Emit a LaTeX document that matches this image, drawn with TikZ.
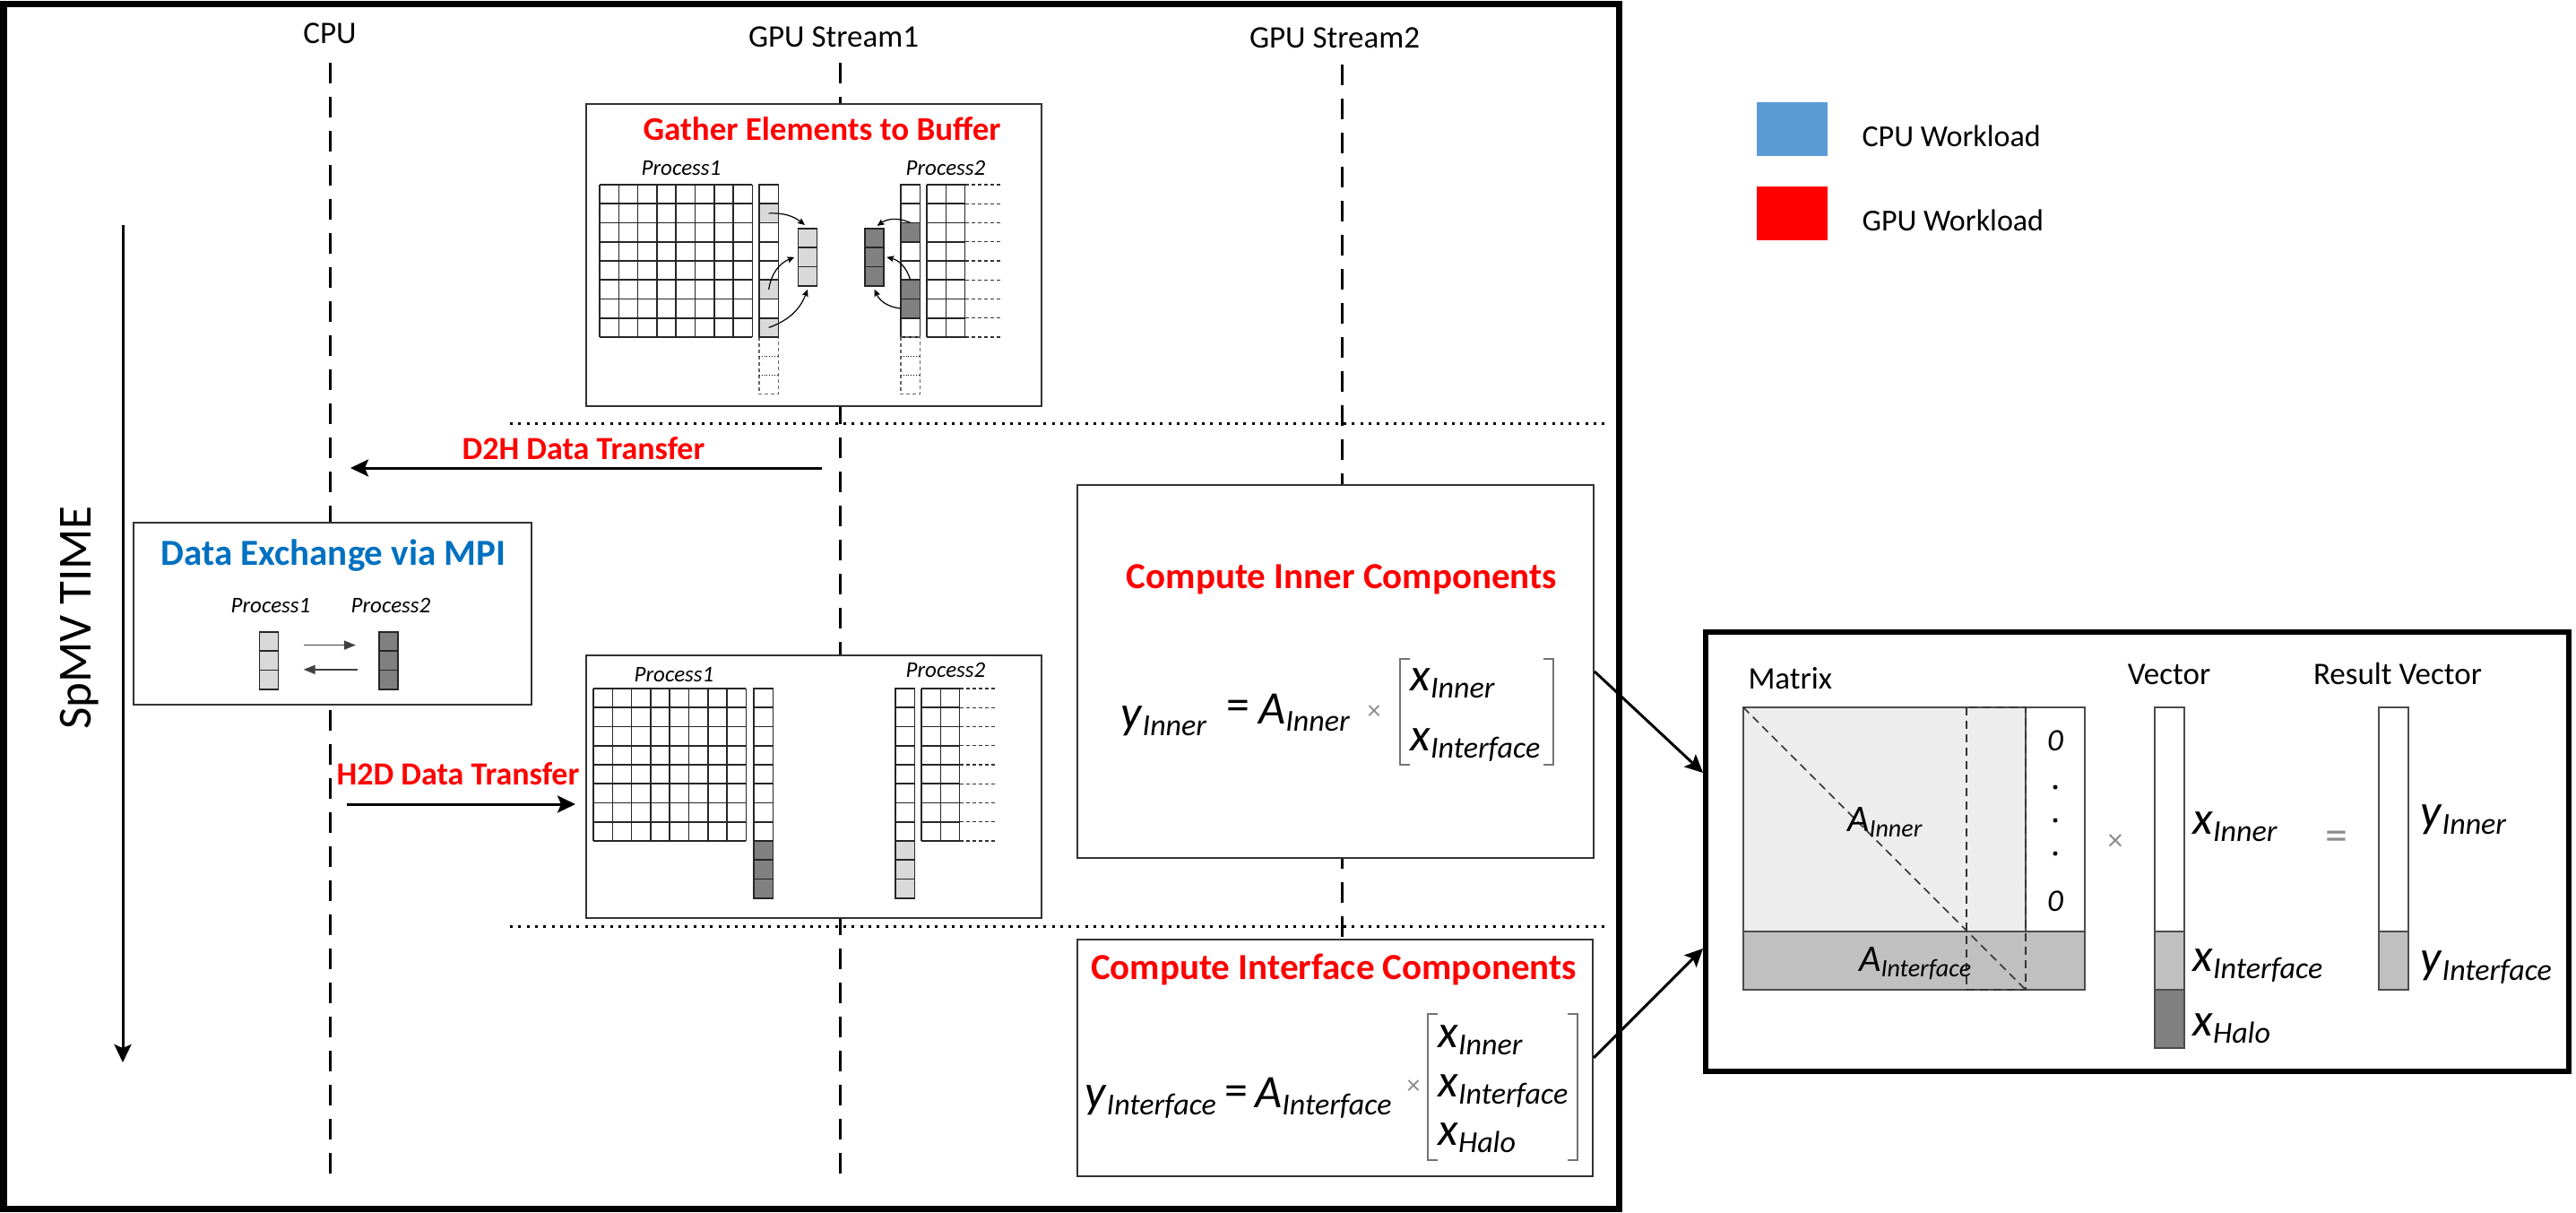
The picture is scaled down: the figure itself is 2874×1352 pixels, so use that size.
\documentclass[tikz,border=0pt]{standalone}
\usepackage{fontspec}
\setmainfont{Carlito}
\usetikzlibrary{arrows.meta, positioning}

\definecolor{lightcell}{HTML}{D9D9D9}
\definecolor{darkcell}{HTML}{808080}
\definecolor{innerfill}{HTML}{EDEDED}
\definecolor{ifacefill}{HTML}{C0C0C0}
\definecolor{cpublue}{HTML}{5B9BD5}
\definecolor{mpiblue}{HTML}{0070C0}
\definecolor{gpured}{HTML}{FF0000}

\newcommand{\fsz}[1]{\fontsize{#1}{#1}\selectfont}
\newcommand{\msym}[3][34]{\textit{#2}\raisebox{-0.16em}{\fsz{#1}\itshape #3}}

\tikzset{
  lane/.style={line width=3pt, dash pattern=on 23pt off 15pt},
  phase/.style={line width=3pt, dash pattern=on 3pt off 6.3pt},
  panel/.style={draw=black!80, line width=2pt, fill=white, inner sep=0pt},
  cellgrid/.style={draw=black!85, line width=1.6pt},
  tailcell/.style={draw=black!60, line width=1.4pt, dash pattern=on 4pt off 3pt},
  extline/.style={draw=black!80, line width=1.3pt, dash pattern=on 4pt off 3pt},
  cellbox/.style={draw=black!85, line width=1.6pt, minimum width=21.3pt, minimum height=21.25pt, inner sep=0pt, outer sep=0pt},
  redtitle/.style={font=\fsz{36}\bfseries, text=gpured},
  plabel/.style={font=\fsz{25}\itshape},
  eqtext/.style={font=\fsz{52}, inner sep=0pt},
  bracket/.style={draw=black!55, line width=2pt},
  opmark/.style={font=\fsz{30}, text=black!45, inner sep=0pt},
  bigarrow/.style={line width=3pt, -{Stealth[length=20pt, width=19pt, inset=4pt]}},
  gatharrow/.style={line width=1.2pt, -{Stealth[length=8pt, width=7pt, inset=1.5pt]}},
  mpiarrow/.style={draw=black!75, line width=1.6pt, -{Stealth[length=13pt, width=10pt, inset=0pt]}},
  matline/.style={draw=black!70, line width=2pt},
  matdash/.style={draw=black!80, line width=1.5pt, dash pattern=on 9pt off 6pt},
}

\begin{document}
\begin{tikzpicture}[x=1pt, y=-1pt]
    \useasboundingbox (0,0) rectangle (2874,1352);

    % lanes
    \node[anchor=base, font=\fsz{35}] (cpulbl) at (368,48) {CPU};
    \node[anchor=base, font=\fsz{35}] (gpu1lbl) at (930,52) {GPU Stream1};
    \node[anchor=base, font=\fsz{35}] (gpu2lbl) at (1489,53) {GPU Stream2};
    \draw[lane] (368,70) -- (368,1318);
    \draw[lane] (937,70) -- (937,1318);
    \draw[lane] (1497,72) -- (1497,1318);

    \draw[phase] (569,472) -- (1795,472);
    \draw[phase] (569,1033) -- (1795,1033);

    \draw[line width=7pt] (4,4) rectangle (1806,1348);

    % time axis
    \node[rotate=90, font=\fsz{53}] (timelbl) at (89,689) {SpMV TIME};
    \coordinate (timetop) at (137,251);
    \coordinate (timebottom) at (137,1185);
    \draw[bigarrow] (timetop) -- (timebottom);

    % gather
    \node[panel, minimum width=508pt, minimum height=337pt] (gatherbox) at (908,284.5) {};
    \node[redtitle, font=\fsz{37}\bfseries, anchor=base] (gathertitle) at (917,156) {Gather Elements to Buffer};
    \node[plabel, anchor=base] (gp1lbl) at (760,195) {Process1};
    \node[plabel, anchor=base] (gp2lbl) at (1055,195) {Process2};
    \foreach \k in {0,...,8} {
        \draw[cellgrid] ({669+21.3*\k},206) -- ++(0,170);
        \draw[cellgrid] (669,{206+21.25*\k}) -- ++(170.4,0);
    }
    \foreach \r in {0,...,7} {
        \draw[cellgrid] (847,{206+21.25*\r}) rectangle ++(21.3,21.25);
        \draw[cellgrid] (1005,{206+21.25*\r}) rectangle ++(21.3,21.25);
    }
    \draw[tailcell] (847,376) rectangle ++(21.3,63.75);
    \draw[tailcell] (1005,376) rectangle ++(21.3,63.75);
    \foreach \r in {1,2} {
        \draw[dotted, thick] (847,{376+21.25*\r}) -- ++(21.3,0);
        \draw[dotted, thick] (1005,{376+21.25*\r}) -- ++(21.3,0);
    }
    \foreach \k in {0,...,2} \draw[cellgrid] ({1034+21.3*\k},206) -- ++(0,170);
    \foreach \k in {0,...,8} {
        \draw[cellgrid] (1034,{206+21.25*\k}) -- ++(42.6,0);
        \draw[extline] (1076.6,{206+21.25*\k}) -- (1117,{206+21.25*\k});
    }
    \node[cellbox, fill=lightcell] (g1a) at (857.65,237.9) {};
    \node[cellbox, fill=lightcell] (g1b) at (857.65,322.9) {};
    \node[cellbox, fill=lightcell] (g1c) at (857.65,365.4) {};
    \node[cellbox, fill=darkcell] (g2a) at (1015.65,259.1) {};
    \node[cellbox, fill=darkcell] (g2b) at (1015.65,322.9) {};
    \node[cellbox, fill=darkcell] (g2c) at (1015.65,344.1) {};
    \node[cellbox, fill=lightcell] (gbuf1a) at (901,265.6) {};
    \node[cellbox, fill=lightcell, below=0pt of gbuf1a] (gbuf1b) {};
    \node[cellbox, fill=lightcell, below=0pt of gbuf1b] (gbuf1c) {};
    \node[cellbox, fill=darkcell] (gbuf2a) at (975.6,265.6) {};
    \node[cellbox, fill=darkcell, below=0pt of gbuf2a] (gbuf2b) {};
    \node[cellbox, fill=darkcell, below=0pt of gbuf2b] (gbuf2c) {};
    \draw[gatharrow] (g1a.center) to[bend left=20] ([xshift=-3pt, yshift=4pt]gbuf1a.north);
    \draw[gatharrow] (g1b.center) to[bend left=30] ([xshift=-4pt]gbuf1b.west);
    \draw[gatharrow] (g1c.center) to[bend right=25] ([yshift=-4pt]gbuf1c.south);
    \draw[gatharrow] (g2a.north) to[bend right=30] ([xshift=3pt, yshift=3pt]gbuf2a.north);
    \draw[gatharrow] (g2b.north) to[bend right=30] ([xshift=3pt]gbuf2b.east);
    \draw[gatharrow] (g2c.west) to[bend left=30] ([yshift=-4pt]gbuf2c.south);

    % D2H
    \coordinate (d2hfrom) at (917,522);
    \coordinate (d2hto) at (391,522);
    \draw[bigarrow] (d2hfrom) -- (d2hto);
    \node[redtitle, anchor=base] (d2hlbl) at (651,512) {D2H Data Transfer};

    % MPI
    \node[panel, minimum width=444pt, minimum height=203pt] (mpibox) at (371,684.5) {};
    \node[font=\fsz{41}\bfseries, text=mpiblue, anchor=base] (mpititle) at (372,630) {Data Exchange via MPI};
    \node[plabel, anchor=base] (mp1lbl) at (302,683) {Process1};
    \node[plabel, anchor=base] (mp2lbl) at (436,683) {Process2};
    \node[cellbox, fill=lightcell] (mpi1a) at (300,715.6) {};
    \node[cellbox, fill=lightcell, below=0pt of mpi1a] (mpi1b) {};
    \node[cellbox, fill=lightcell, below=0pt of mpi1b] (mpi1c) {};
    \node[cellbox, fill=darkcell] (mpi2a) at (433.5,715.6) {};
    \node[cellbox, fill=darkcell, below=0pt of mpi2a] (mpi2b) {};
    \node[cellbox, fill=darkcell, below=0pt of mpi2b] (mpi2c) {};
    \draw[mpiarrow] ([xshift=28pt, yshift=-4pt]mpi1a.east) -- ([xshift=-26pt, yshift=-4pt]mpi2a.west);
    \draw[mpiarrow] ([xshift=-24pt, yshift=-10pt]mpi2b.west) -- ([xshift=28pt, yshift=-10pt]mpi1b.east);

    % H2D
    \coordinate (h2dfrom) at (387,897);
    \coordinate (h2dto) at (642,897);
    \draw[bigarrow] (h2dfrom) -- (h2dto);
    \node[redtitle, anchor=base] (h2dlbl) at (511,875) {H2D Data Transfer};

    \node[panel, minimum width=508pt, minimum height=293pt] (h2dbox) at (908,877.5) {};
    \node[plabel, anchor=base] (hp1lbl) at (752,760) {Process1};
    \node[plabel, anchor=base] (hp2lbl) at (1055,755) {Process2};
    \foreach \k in {0,...,8} {
        \draw[cellgrid] ({662+21.3*\k},768) -- ++(0,170);
        \draw[cellgrid] (662,{768+21.25*\k}) -- ++(170.4,0);
    }
    \foreach \r in {0,...,7} {
        \draw[cellgrid] (841,{768+21.25*\r}) rectangle ++(21.3,21.25);
        \draw[cellgrid] (999,{768+21.25*\r}) rectangle ++(21.3,21.25);
    }
    \foreach \r in {8,9,10} {
        \draw[cellgrid, fill=darkcell] (841,{768+21.25*\r}) rectangle ++(21.3,21.25);
        \draw[cellgrid, fill=lightcell] (999,{768+21.25*\r}) rectangle ++(21.3,21.25);
    }
    \foreach \k in {0,...,2} \draw[cellgrid] ({1028+21.3*\k},768) -- ++(0,170);
    \foreach \k in {0,...,8} {
        \draw[cellgrid] (1028,{768+21.25*\k}) -- ++(42.6,0);
        \draw[extline] (1070.6,{768+21.25*\k}) -- (1112,{768+21.25*\k});
    }

    % inner components
    \node[panel, minimum width=576pt, minimum height=416pt] (innerbox) at (1490,749) {};
    \node[redtitle, font=\fsz{41}\bfseries, anchor=base] (innertitle) at (1497,656) {Compute Inner Components};
    \node[eqtext, anchor=base west] (yinner) at (1250,812) {\msym{y}{Inner}};
    \node[eqtext] (eqinner) at (1381,792) {=};
    \node[eqtext, anchor=base west] (ainner) at (1404,807) {\msym{A}{Inner}};
    \node[opmark] (tinner) at (1533,795) {×};
    \draw[bracket] (1573,735) -| (1562,853) -- (1573,853);
    \draw[bracket] (1722,735) -| (1733,853) -- (1722,853);
    \node[eqtext, anchor=base west] (xin1) at (1573,770) {\msym{x}{Inner}};
    \node[eqtext, anchor=base west] (xif1) at (1573,837) {\msym{x}{Interface}};

    % interface components
    \node[panel, minimum width=575pt, minimum height=264pt] (ifacebox) at (1489.5,1180) {};
    \node[redtitle, font=\fsz{41}\bfseries, anchor=base] (ifacetitle) at (1488,1092) {Compute Interface Components};
    \node[eqtext, anchor=base west] (yiface) at (1210,1235) {\msym{y}{Interface}};
    \node[eqtext] (eqiface) at (1379,1222) {=};
    \node[eqtext, anchor=base west] (aiface) at (1400,1235) {\msym{A}{Interface}};
    \node[opmark] (tiface) at (1577,1213) {×};
    \draw[bracket] (1604,1131) -| (1593,1294) -- (1604,1294);
    \draw[bracket] (1749,1131) -| (1760,1294) -- (1749,1294);
    \node[eqtext, anchor=base west] (xin2) at (1604,1168) {\msym{x}{Inner}};
    \node[eqtext, anchor=base west] (xif2) at (1604,1223) {\msym{x}{Interface}};
    \node[eqtext, anchor=base west] (xhalo2) at (1604,1277) {\msym{x}{Halo}};

    % legend
    \node[fill=cpublue, minimum width=79pt, minimum height=60pt, inner sep=0pt] (cpukey) at (1999.5,144) {};
    \node[anchor=base west, font=\fsz{34}] (cpukeylbl) at (2074,163) {CPU Workload};
    \node[fill=gpured, minimum width=79pt, minimum height=60pt, inner sep=0pt] (gpukey) at (1999.5,237.5) {};
    \node[anchor=base west, font=\fsz{34}] (gpukeylbl) at (2074,257) {GPU Workload};

    % spmv detail
    \node[draw, line width=6pt, minimum width=963pt, minimum height=490pt, inner sep=0pt] (spmvbox) at (2384.5,950) {};
    \draw[bigarrow] (innerbox.east) -- ([yshift=88pt]spmvbox.west);
    \draw[bigarrow] (ifacebox.east) -- ([yshift=-108pt]spmvbox.west);

    \node[anchor=base west, font=\fsz{35}] (matlbl) at (1947,768) {Matrix};
    \node[anchor=base, font=\fsz{35}] (veclbl) at (2420,763) {Vector};
    \node[anchor=base, font=\fsz{35}] (reslbl) at (2675,763) {Result Vector};
    \fill[innerfill] (1945,789) rectangle (2260,1039);
    \fill[ifacefill] (1945,1039) rectangle (2326,1104);
    \draw[matline] (1945,789) rectangle (2326,1104);
    \draw[matline] (1945,1039) -- (2326,1039);
    \draw[matline] (2260,789) -- (2260,1039);
    \draw[matdash] (2194,789) rectangle (2260,1104);
    \draw[matdash] (1945,789) -- (2260,1104);
    \node[font=\fsz{42}, anchor=base west, inner sep=0pt] (ainlbl) at (2061,927) {\msym[28]{A}{Inner}};
    \node[font=\fsz{42}, anchor=base west, inner sep=0pt] (aiflbl) at (2074,1083) {\msym[28]{A}{Interface}};
    \node[font=\fsz{35}\itshape] (zerotop) at (2293,826) {0};
    \node[font=\fsz{35}\itshape] (zerobot) at (2293,1005) {0};
    \fill (2293,878) circle (2.5);
    \fill (2293,915) circle (2.5);
    \fill (2293,952) circle (2.5);
    \node[opmark, font=\fsz{34}] (tmat) at (2360,940) {×};
    \node[opmark, font=\fsz{50}] (eqmat) at (2607,938) {=};

    \fill[white] (2404,789) rectangle (2437,1039);
    \fill[ifacefill] (2404,1039) rectangle (2437,1104);
    \fill[darkcell] (2404,1104) rectangle (2437,1169);
    \draw[matline] (2404,789) rectangle (2437,1169);
    \draw[matline] (2404,1039) -- (2437,1039);
    \draw[matline] (2404,1104) -- (2437,1104);
    \node[eqtext, anchor=base west] (xinr) at (2446,930) {\msym{x}{Inner}};
    \node[eqtext, anchor=base west] (xifr) at (2446,1083) {\msym{x}{Interface}};
    \node[eqtext, anchor=base west] (xhalor) at (2446,1155) {\msym{x}{Halo}};

    \fill[ifacefill] (2654,1039) rectangle (2687,1104);
    \draw[matline] (2654,789) rectangle (2687,1104);
    \draw[matline] (2654,1039) -- (2687,1039);
    \node[eqtext, anchor=base west] (yinr) at (2700,922) {\msym{y}{Inner}};
    \node[eqtext, anchor=base west] (yifr) at (2700,1085) {\msym{y}{Interface}};
\end{tikzpicture}
\end{document}
